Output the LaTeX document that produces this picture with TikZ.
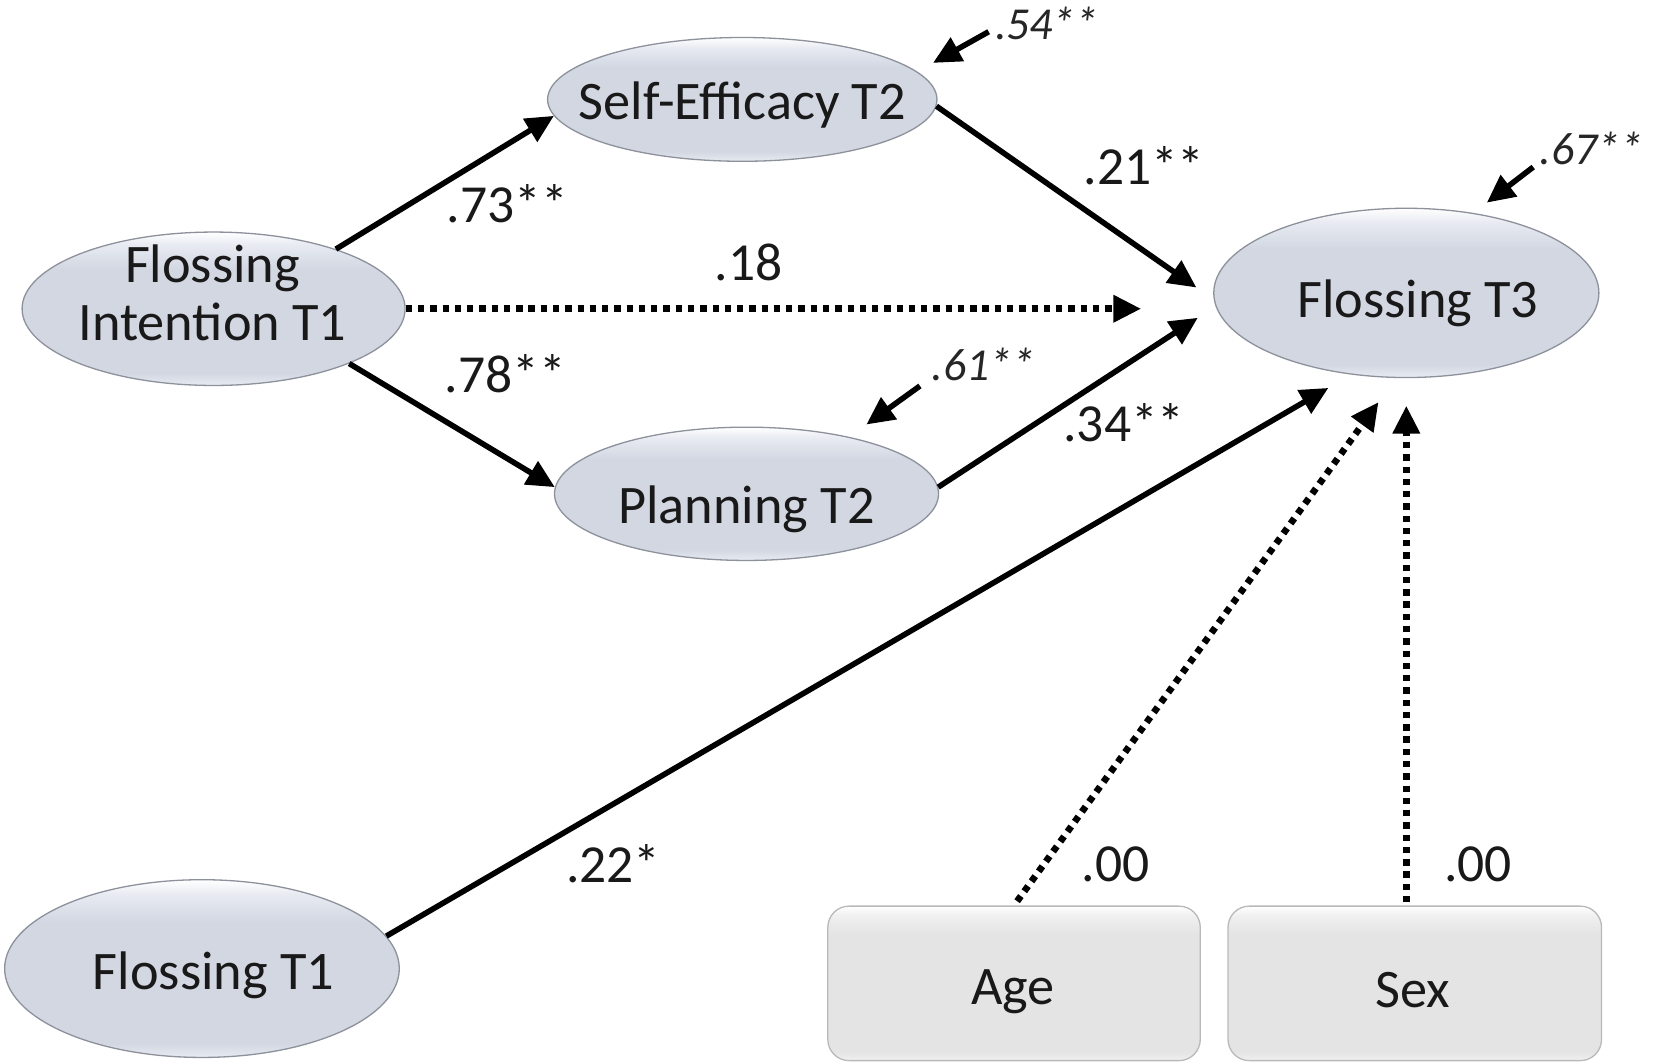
\documentclass[tikz,border=0pt]{standalone}
\usepackage{fontspec}
\setmainfont{Carlito}
\usetikzlibrary{shapes.geometric,arrows.meta}

\definecolor{latentfill}{RGB}{210,215,226}
\definecolor{latentlight}{RGB}{232,235,242}
\definecolor{latentedge}{RGB}{140,145,155}
\definecolor{boxfill}{RGB}{228,228,228}
\definecolor{boxlight}{RGB}{240,240,240}
\definecolor{boxedge}{RGB}{185,185,185}

% bevelled fills: light rim at the bottom, white rim at the top
\pgfdeclareverticalshading{latentshade}{100bp}{%
  color(0bp)=(latentlight); color(25bp)=(latentlight); color(29bp)=(latentfill);
  color(63bp)=(latentfill); color(71bp)=(latentlight); color(75bp)=(white); color(100bp)=(white)}
\pgfdeclareverticalshading{boxshade}{100bp}{%
  color(0bp)=(boxlight); color(25bp)=(boxlight); color(28bp)=(boxfill);
  color(66bp)=(boxfill); color(72bp)=(boxlight); color(75bp)=(white); color(100bp)=(white)}

\newcommand\figtext{\fontsize{14.6}{15.8}\selectfont}
\newcommand\figcoef{\fontsize{14.4}{16}\selectfont}
\newcommand\figres{\fontsize{12.3}{14}\selectfont\itshape}

\tikzset{
  latent/.style={ellipse, draw=latentedge, line width=0.35pt, shade, shading=latentshade,
    inner sep=0pt},
  observed/.style={rectangle, rounded corners=0.2cm, draw=boxedge, line width=0.35pt,
    shade, shading=boxshade, inner sep=0pt},
  caption/.style={inner sep=0pt, align=center, font=\figtext, text=black!90},
  pathsolid/.style={line width=1.5pt, -{Triangle[length=7.5pt,width=7pt]}},
  pathdotted/.style={line width=1.8pt, dash pattern=on 1.7pt off 1.6pt,
    -{Triangle[length=7.5pt,width=7pt]}},
  residual/.style={line width=1.5pt, -{Triangle[length=7.5pt,width=7pt]}},
  coef/.style={font=\figcoef, text=black!90, inner sep=0pt},
  rescoef/.style={font=\figres, text=black!85, inner sep=0pt},
}

\begin{document}
\begin{tikzpicture}[x=0.01cm, y=-0.01cm]
  \useasboundingbox (0,0) rectangle (1568,1006);

  % constructs
  \node[latent, minimum width=3.68cm, minimum height=1.17cm] (se) at (702,94) {};
  \node[latent, minimum width=3.62cm, minimum height=1.45cm] (fi) at (202,292) {};
  \node[latent, minimum width=3.63cm, minimum height=1.26cm] (pl) at (706,467) {};
  \node[latent, minimum width=3.64cm, minimum height=1.60cm] (f3) at (1330,277) {};
  \node[latent, minimum width=3.73cm, minimum height=1.68cm] (f1) at (191,916) {};
  \node[observed, minimum width=3.52cm, minimum height=1.46cm] (age) at (959,930) {};
  \node[observed, minimum width=3.53cm, minimum height=1.46cm] (sex) at (1338,930) {};

  % construct names
  \node[caption] (se-name) at (702,99) {Self-Efficacy T2};
  \node[caption] (fi-name) at (201,277) {Flossing\\Intention T1};
  \node[caption] (pl-name) at (706,482) {Planning T2};
  \node[caption] (f3-name) at (1341,287) {Flossing T3};
  \node[caption] (f1-name) at (202,922) {Flossing T1};
  \node[caption] (age-name) at (958,938) {Age};
  \node[caption] (sex-name) at (1336,936) {Sex};

  % structural paths
  \draw[pathsolid] (fi.26) -- (se.185);
  \draw[pathsolid] (fi.-22) -- (pl.178);
  \draw[pathdotted, shorten >=0.68cm] (fi.east) -- (fi.east -| f3.west);
  \draw[pathsolid, shorten >=0.2cm] (se.-2) -- (f3.182);
  \draw[pathsolid, shorten >=0.2cm] (pl.2) -- (f3.184);
  \draw[pathsolid, shorten >=0.25cm] (f1.10) -- (f3.236);
  \draw[pathdotted, shorten >=0.28cm, shorten <=0.05cm] (age.north) -- (f3.263);
  \draw[pathdotted, shorten >=0.26cm, shorten <=0.03cm] (sex.north -| f3.south) -- (f3.south);

  % disturbances
  \coordinate (rse) at (935,30);
  \coordinate (rf3) at (1450,158);
  \coordinate (rpl) at (870,365);
  \draw[residual, shorten >=0.17cm] (rse) -- (se.9);
  \draw[residual, shorten >=0.16cm] (rf3) -- (f3.50);
  \draw[residual, shorten >=0.2cm] (rpl) -- (pl.29);

  % path coefficients
  \node[coef] (c73) at (480,193) {.73**};
  \node[coef] (c18) at (708,248) {.18};
  \node[coef] (c78) at (478,353) {.78**};
  \node[coef] (c21) at (1082,157) {.21**};
  \node[coef] (c34) at (1063,400) {.34**};
  \node[coef] (c22) at (580,817) {.22*};
  \node[coef] (c00a) at (1055,817) {.00};
  \node[coef] (c00b) at (1398,817) {.00};

  % explained variance
  \node[rescoef] (v54) at (990,22) {.54**};
  \node[rescoef] (v67) at (1505,140) {.67**};
  \node[rescoef] (v61) at (930,345) {.61**};
\end{tikzpicture}
\end{document}
